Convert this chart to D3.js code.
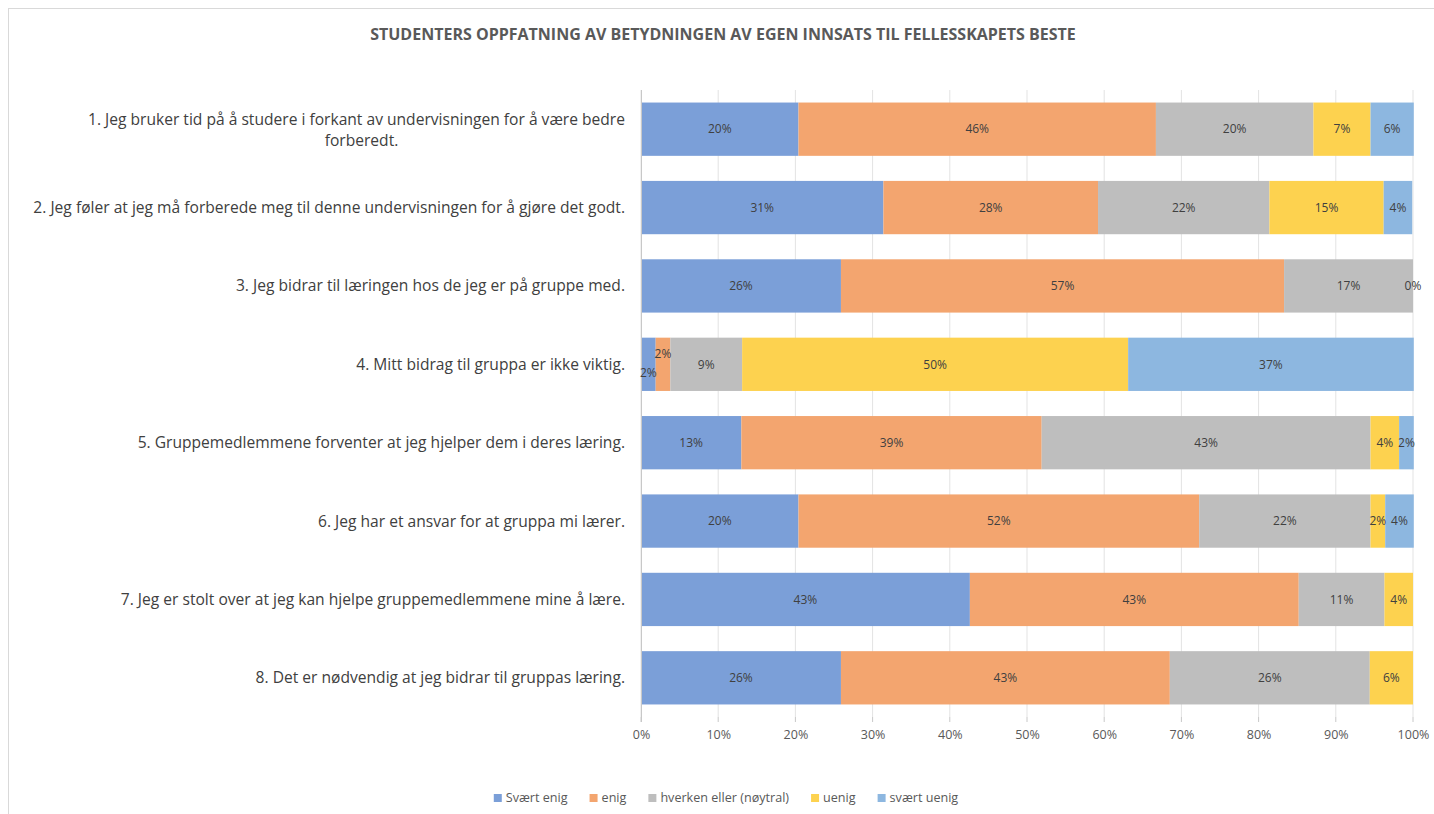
<!DOCTYPE html>
<html>
  <head>
    <meta charset="UTF-8" />
    <script src="https://d3js.org/d3.v7.min.js"></script>
    <title>Studenters oppfatning</title>
    <style>
      body { margin: 0; background: #fff; }
      svg text { font-family: "Open Sans", Lato, sans-serif; }
    </style>
  </head>
  <body>
    <div id="chart"></div>
    <script type="text/javascript">
      // data (andel av 54 svar, i prosent)
      const categories = [
        "1. Jeg bruker tid på å studere i forkant av undervisningen for å være bedre forberedt.",
        "2. Jeg føler at jeg må forberede meg til denne undervisningen for å gjøre det godt.",
        "3. Jeg bidrar til læringen hos de jeg er på gruppe med.",
        "4. Mitt bidrag til gruppa er ikke viktig.",
        "5. Gruppemedlemmene forventer at jeg hjelper dem i deres læring.",
        "6. Jeg har et ansvar for at gruppa mi lærer.",
        "7. Jeg er stolt over at jeg kan hjelpe gruppemedlemmene mine å lære.",
        "8. Det er nødvendig at jeg bidrar til gruppas læring."
      ];
      const seriesNames = ["Svært enig", "enig", "hverken eller (nøytral)", "uenig", "svært uenig"];
      const sværtEnig = [20.4, 31.4, 25.9, 1.9, 13.0, 20.4, 42.6, 25.9];
      const enig = [46.3, 27.8, 57.4, 1.9, 38.9, 51.9, 42.6, 42.6];
      const nøytral = [20.4, 22.2, 16.7, 9.3, 42.6, 22.2, 11.1, 25.9];
      const uenig = [7.4, 14.8, 0, 50.0, 3.7, 1.9, 3.7, 5.6];
      const sværtUenig = [5.6, 3.7, null, 37.0, 1.9, 3.7, null, null];
      const xTicks = [0, 10, 20, 30, 40, 50, 60, 70, 80, 90, 100];
      const colors = ["#7B9FD8", "#F3A56F", "#BEBEBE", "#FDD24F", "#8DB7E0"];

      const w = 1434, h = 814;
      const plotLeft = 641, plotRight = 1413, plotTop = 90, plotBottom = 717;

      const svg = d3.select("#chart").append("svg").attr("width", w).attr("height", h);

      // ramme
      svg.append("rect")
        .attr("x", 8.5).attr("y", 8.5)
        .attr("width", w).attr("height", h)
        .attr("fill", "none").attr("stroke", "#D9D9D9");

      svg.append("text")
        .attr("x", 723).attr("y", 40)
        .attr("text-anchor", "middle")
        .style("font-size", "16px").style("font-weight", "bold")
        .attr("fill", "#595959")
        .text("STUDENTERS OPPFATNING AV BETYDNINGEN AV EGEN INNSATS TIL FELLESSKAPETS BESTE");

      const xScale = d3.scaleLinear().domain([0, 100]).range([plotLeft, plotRight]);
      const yScale = d3.scaleBand().domain(categories).range([plotTop, plotBottom])
        .paddingInner(0.32).paddingOuter(0.16);

      // rutenett
      svg.append("g").selectAll("line").data(xTicks).enter().append("line")
        .attr("x1", d => xScale(d)).attr("x2", d => xScale(d))
        .attr("y1", plotTop).attr("y2", plotBottom)
        .attr("stroke", "#E3E3E3");

      const xAxis = svg.append("g")
        .attr("transform", "translate(0," + plotBottom + ")")
        .call(d3.axisBottom(xScale).tickValues(xTicks).tickFormat(d => d + "%").tickSize(0).tickPadding(13));
      xAxis.select(".domain").remove();
      xAxis.selectAll("text").style("font-size", "12.5px").attr("fill", "#595959");

      // stablet data
      const rows = categories.map((c, i) => ({
        cat: c,
        vals: [sværtEnig[i], enig[i], nøytral[i], uenig[i], sværtUenig[i]]
      }));
      const segs = [];
      rows.forEach(r => {
        let acc = 0;
        const rowSegs = [];
        r.vals.forEach((v, k) => {
          if (v === null) return;
          rowSegs.push({ cat: r.cat, k: k, v: v, x0: acc, x1: acc + v, dy: 0 });
          acc += v;
        });
        // to små etiketter ved siden av hverandre flyttes opp/ned
        for (let j = 1; j < rowSegs.length; j++) {
          const a = rowSegs[j - 1], b = rowSegs[j];
          if (a.v > 0 && a.v < 2.5 && b.v > 0 && b.v < 2.5) { a.dy = 8; b.dy = -11; }
        }
        rowSegs.forEach(s => segs.push(s));
      });

      svg.append("g").selectAll("rect").data(segs).enter().append("rect")
        .attr("x", d => xScale(d.x0))
        .attr("y", d => yScale(d.cat))
        .attr("width", d => xScale(d.x1) - xScale(d.x0))
        .attr("height", yScale.bandwidth())
        .attr("fill", d => colors[d.k]);

      // venstre akse
      svg.append("line")
        .attr("x1", plotLeft + 0.5).attr("x2", plotLeft + 0.5)
        .attr("y1", plotTop).attr("y2", plotBottom + 5)
        .attr("stroke", "#C8C8C8");
      svg.append("g").selectAll("line").data(xTicks).enter().append("line")
        .attr("x1", d => xScale(d)).attr("x2", d => xScale(d))
        .attr("y1", plotBottom).attr("y2", plotBottom + 5)
        .attr("stroke", "#C8C8C8");

      // dataetiketter
      svg.append("g").selectAll("text").data(segs).enter().append("text")
        .attr("x", d => (xScale(d.x0) + xScale(d.x1)) / 2)
        .attr("y", d => yScale(d.cat) + yScale.bandwidth() / 2 + d.dy)
        .attr("dy", "0.35em")
        .attr("text-anchor", "middle")
        .style("font-size", "12px")
        .attr("fill", "#404040")
        .text(d => Math.round(d.v) + "%");

      // kategorietiketter
      const labelX = 625, maxW = 560;
      rows.forEach(r => {
        const cy = yScale(r.cat) + yScale.bandwidth() / 2;
        const t = svg.append("text")
          .attr("x", labelX).attr("y", cy).attr("dy", "0.35em")
          .attr("text-anchor", "end")
          .style("font-size", "15.6px").attr("fill", "#404040")
          .text(r.cat);
        if (t.node().getComputedTextLength() > maxW + 40) {
          const words = r.cat.split(" ");
          const last = words.pop();
          t.text(words.join(" "));
          const w1 = t.node().getComputedTextLength();
          t.attr("y", cy - 10);
          svg.append("text")
            .attr("x", labelX - w1 / 2 + 5).attr("y", cy + 11).attr("dy", "0.35em")
            .attr("text-anchor", "middle")
            .style("font-size", "15.6px").attr("fill", "#404040")
            .text(last);
        }
      });

      // forklaring
      const legend = svg.append("g");
      let lx = 0;
      seriesNames.forEach((n, k) => {
        const g = legend.append("g").attr("transform", "translate(" + lx + ",0)");
        g.append("rect").attr("x", 0).attr("y", -4).attr("width", 8).attr("height", 8).attr("fill", colors[k]);
        const t = g.append("text").attr("x", 12).attr("y", 0).attr("dy", "0.35em")
          .style("font-size", "12.6px").attr("fill", "#595959").text(n);
        lx += 12 + t.node().getComputedTextLength() + 22;
      });
      const legW = lx - 22;
      legend.attr("transform", "translate(" + (726 - legW / 2) + ",798)");
    </script>
  </body>
</html>
